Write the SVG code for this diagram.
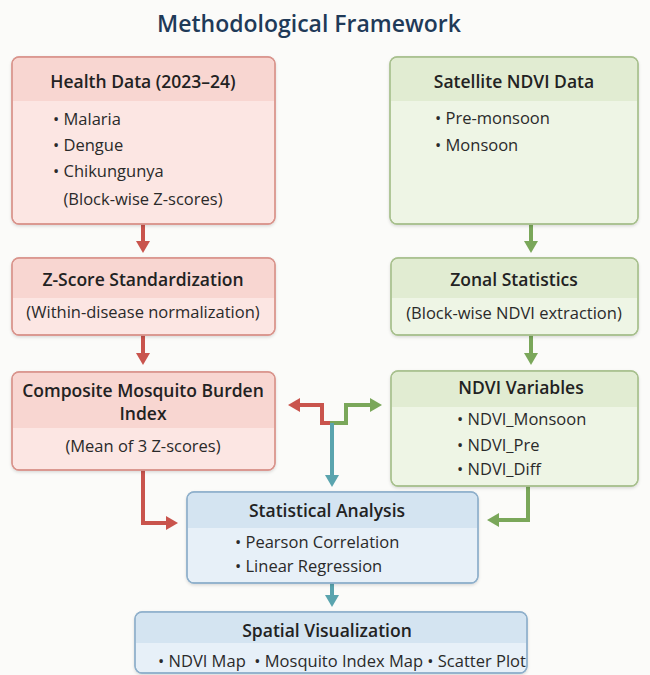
<svg xmlns="http://www.w3.org/2000/svg" width="650" height="675" viewBox="0 0 650 675">
  <defs>
    <style>
      .title { font-family: "Open Sans", "Noto Sans", sans-serif; font-size: 23px; font-weight: 600; fill: #1f3a58; text-anchor: middle; }
      .hd { font-family: "Open Sans", "Noto Sans", sans-serif; font-size: 17.5px; font-weight: 600; fill: #222; text-anchor: middle; }
      .tx { font-family: "Open Sans", "Noto Sans", sans-serif; font-size: 16.5px; fill: #2a2a2a; }
      .ctr { text-anchor: middle; }
      .pre { white-space: pre; }
      .red .body { fill: #fce6e3; stroke: #d9948c; stroke-width: 1.3; }
      .red .head { fill: #f8d6d1; }
      .grn .body { fill: #eef5e5; stroke: #a8c08e; stroke-width: 1.3; }
      .grn .head { fill: #e1ecd2; }
      .blu .body { fill: #e7f0f8; stroke: #8fb0cb; stroke-width: 1.3; }
      .blu .head { fill: #d4e4f1; }
      .line { fill: none; stroke-width: 4; stroke-linejoin: miter; }
      .r { stroke: #c9544d; }
      .g { stroke: #7aa75a; }
      .t { stroke: #5aa4ae; }
    </style>
    <filter id="shadow" x="-5%" y="-5%" width="110%" height="115%">
      <feDropShadow dx="0" dy="1.5" stdDeviation="1.5" flood-color="#000" flood-opacity="0.14"/>
    </filter>
    <marker id="ar" viewBox="0 0 12 14" refX="8" refY="7" markerWidth="12" markerHeight="14" markerUnits="userSpaceOnUse" orient="auto">
      <path d="M0,0 L12,7 L0,14 z" fill="#c9544d"/>
    </marker>
    <marker id="ag" viewBox="0 0 12 14" refX="8" refY="7" markerWidth="12" markerHeight="14" markerUnits="userSpaceOnUse" orient="auto">
      <path d="M0,0 L12,7 L0,14 z" fill="#7aa75a"/>
    </marker>
    <marker id="at" viewBox="0 0 12 14" refX="8" refY="7" markerWidth="12" markerHeight="14" markerUnits="userSpaceOnUse" orient="auto">
      <path d="M0,0 L12,7 L0,14 z" fill="#5aa4ae"/>
    </marker>
  </defs>

  <rect width="650" height="675" fill="#fbfbf9"/>

  <text class="title" x="309" y="32">Methodological Framework</text>

  <!-- connectors -->
  <g id="connectors">
    <path class="line r" d="M143,224 V249" marker-end="url(#ar)"/>
    <path class="line r" d="M143,335 V361" marker-end="url(#ar)"/>
    <path class="line g" d="M531,224 V249" marker-end="url(#ag)"/>
    <path class="line g" d="M531,335 V361" marker-end="url(#ag)"/>
    <path class="line r" d="M143,470 V523 H174" marker-end="url(#ar)"/>
    <path class="line g" d="M528,486 V520 H491" marker-end="url(#ag)"/>
    <path class="line r" d="M332,423 H322 V405 H292" marker-end="url(#ar)"/>
    <path class="line g" d="M330,423 H346 V405 H378" marker-end="url(#ag)"/>
    <path class="line t" d="M332,423 V483" marker-end="url(#at)"/>
    <path class="line t" d="M332,583 V603" marker-end="url(#at)"/>
  </g>

  <!-- Health Data -->
  <g id="health" class="red">
    <rect class="body" x="12" y="57" width="263" height="167" rx="7" filter="url(#shadow)"/>
    <path class="head" d="M13,101 V63 a6,6 0 0 1 6,-5.4 H268 a6,6 0 0 1 6,5.4 V101 z"/>
    <rect x="12" y="57" width="263" height="167" rx="7" fill="none" stroke="#d9948c" stroke-width="1.3"/>
    <text class="hd" x="143" y="88">Health Data (2023–24)</text>
    <text class="tx" x="53" y="125">• Malaria</text>
    <text class="tx" x="53" y="151">• Dengue</text>
    <text class="tx" x="53" y="177">• Chikungunya</text>
    <text class="tx ctr" x="143" y="205">(Block-wise Z-scores)</text>
  </g>

  <!-- Satellite NDVI Data -->
  <g id="satellite" class="grn">
    <rect class="body" x="390" y="57" width="248" height="167" rx="7" filter="url(#shadow)"/>
    <path class="head" d="M391,101 V63 a6,6 0 0 1 6,-5.4 H631 a6,6 0 0 1 6,5.4 V101 z"/>
    <rect x="390" y="57" width="248" height="167" rx="7" fill="none" stroke="#a8c08e" stroke-width="1.3"/>
    <text class="hd" x="514" y="88">Satellite NDVI Data</text>
    <text class="tx" x="435" y="124">• Pre-monsoon</text>
    <text class="tx" x="435" y="151">• Monsoon</text>
  </g>

  <!-- Z-Score Standardization -->
  <g id="zscore" class="red">
    <rect class="body" x="12" y="258" width="263" height="77" rx="7" filter="url(#shadow)"/>
    <path class="head" d="M13,298 V264 a6,6 0 0 1 6,-5.4 H268 a6,6 0 0 1 6,5.4 V298 z"/>
    <rect x="12" y="258" width="263" height="77" rx="7" fill="none" stroke="#d9948c" stroke-width="1.3"/>
    <text class="hd" x="143" y="286">Z-Score Standardization</text>
    <text class="tx ctr" x="143" y="318">(Within-disease normalization)</text>
  </g>

  <!-- Zonal Statistics -->
  <g id="zonal" class="grn">
    <rect class="body" x="391" y="258" width="247" height="77" rx="7" filter="url(#shadow)"/>
    <path class="head" d="M392,298 V264 a6,6 0 0 1 6,-5.4 H631 a6,6 0 0 1 6,5.4 V298 z"/>
    <rect x="391" y="258" width="247" height="77" rx="7" fill="none" stroke="#a8c08e" stroke-width="1.3"/>
    <text class="hd" x="514" y="286">Zonal Statistics</text>
    <text class="tx ctr" x="514" y="319">(Block-wise NDVI extraction)</text>
  </g>

  <!-- Composite Mosquito Burden Index -->
  <g id="composite" class="red">
    <rect class="body" x="12" y="372" width="263" height="98" rx="7" filter="url(#shadow)"/>
    <path class="head" d="M13,428 V378 a6,6 0 0 1 6,-5.4 H268 a6,6 0 0 1 6,5.4 V428 z"/>
    <rect x="12" y="372" width="263" height="98" rx="7" fill="none" stroke="#d9948c" stroke-width="1.3"/>
    <text class="hd" x="143" y="397">Composite Mosquito Burden</text>
    <text class="hd" x="143" y="420">Index</text>
    <text class="tx ctr" x="143" y="452">(Mean of 3 Z-scores)</text>
  </g>

  <!-- NDVI Variables -->
  <g id="ndvivars" class="grn">
    <rect class="body" x="391" y="371" width="247" height="115" rx="7" filter="url(#shadow)"/>
    <path class="head" d="M392,407 V377 a6,6 0 0 1 6,-5.4 H631 a6,6 0 0 1 6,5.4 V407 z"/>
    <rect x="391" y="371" width="247" height="115" rx="7" fill="none" stroke="#a8c08e" stroke-width="1.3"/>
    <text class="hd" x="521" y="394">NDVI Variables</text>
    <text class="tx" x="457" y="425">• NDVI_Monsoon</text>
    <text class="tx" x="457" y="451">• NDVI_Pre</text>
    <text class="tx" x="457" y="475">• NDVI_Diff</text>
  </g>

  <!-- Statistical Analysis -->
  <g id="stats" class="blu">
    <rect class="body" x="187" y="492" width="291" height="91" rx="7" filter="url(#shadow)"/>
    <path class="head" d="M188,528 V498 a6,6 0 0 1 6,-5.4 H471 a6,6 0 0 1 6,5.4 V528 z"/>
    <rect x="187" y="492" width="291" height="91" rx="7" fill="none" stroke="#8fb0cb" stroke-width="1.3"/>
    <text class="hd" x="327" y="517">Statistical Analysis</text>
    <text class="tx" x="235" y="548">• Pearson Correlation</text>
    <text class="tx" x="235" y="572">• Linear Regression</text>
  </g>

  <!-- Spatial Visualization -->
  <g id="spatial" class="blu">
    <rect class="body" x="135" y="612" width="392" height="61" rx="7" filter="url(#shadow)"/>
    <path class="head" d="M136,643 V618 a6,6 0 0 1 6,-5.4 H520 a6,6 0 0 1 6,5.4 V643 z"/>
    <rect x="135" y="612" width="392" height="61" rx="7" fill="none" stroke="#8fb0cb" stroke-width="1.3"/>
    <text class="hd" x="327" y="637">Spatial Visualization</text>
    <text class="tx pre" x="158" y="667">• NDVI Map  • Mosquito Index Map • Scatter Plot</text>
  </g>
</svg>
